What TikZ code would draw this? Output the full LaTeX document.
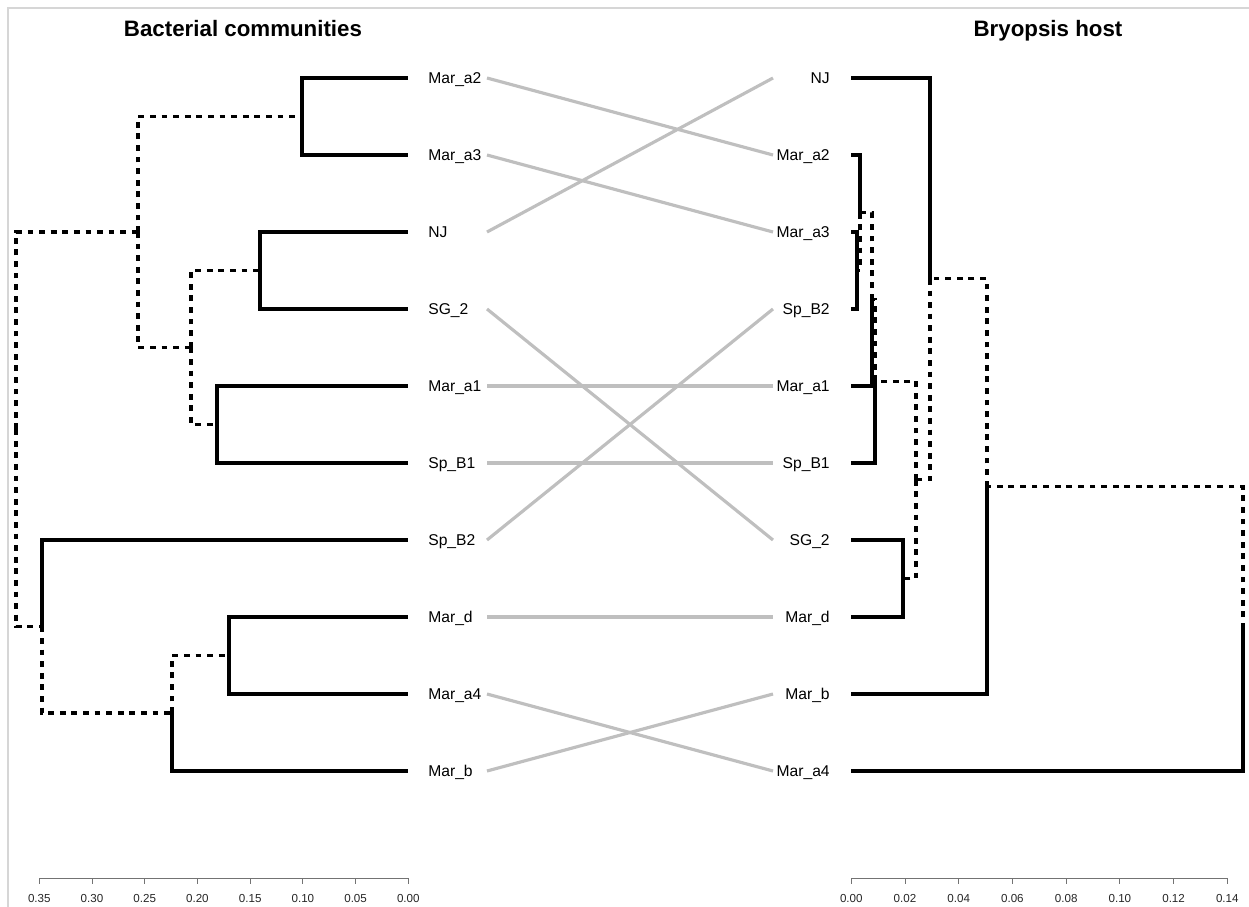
\documentclass[tikz,border=0pt]{standalone}
\usepackage{fontspec}
\setmainfont{Liberation Sans}
\usetikzlibrary{calc}

\tikzset{
  br/.style={line width=1.75pt},
  brd/.style={line width=1.75pt, dash pattern=on 3.3pt off 3.3pt},
  link/.style={line width=1.8pt, draw=black!25},
  lab/.style={inner sep=0pt, font=\fontsize{8.9}{10}\selectfont},
  ttl/.style={inner sep=0pt, font=\fontsize{12.7}{14}\selectfont\bfseries},
  axlab/.style={inner sep=0pt, font=\fontsize{6.6}{8}\selectfont, text=black!85},
  ax/.style={line width=0.5pt, draw=black!55},
}

\begin{document}
\begin{tikzpicture}[x=0.02cm, y=-0.02cm]
\useasboundingbox (0,0) rectangle (1249,907);
\draw[black!16, line width=1.1pt] (8,907) -- (8,8) -- (1249,8);

\node[ttl, anchor=base] (tb) at (243,36) {Bacterial communities};
\node[ttl, anchor=base] (th) at (1048,36) {Bryopsis host};

% leaves, bacterial side
\foreach \n/\t/\y in {Mara2/Mar\_a2/78, Mara3/Mar\_a3/155, NJ/NJ/232, SGb/SG\_2/309, Mara1/Mar\_a1/386, SpBa/Sp\_B1/463, SpBb/Sp\_B2/540, Mard/Mar\_d/617, Mara4/Mar\_a4/694, Marb/Mar\_b/771}{
  \node[lab, anchor=base west] (b\n) at (428,\y+5.6) {\t};
  \coordinate (bt\n) at (408,\y);
  \coordinate (bc\n) at (487,\y);
}
% leaves, host side
\foreach \n/\t/\y in {NJ/NJ/78, Mara2/Mar\_a2/155, Mara3/Mar\_a3/232, SpBb/Sp\_B2/309, Mara1/Mar\_a1/386, SpBa/Sp\_B1/463, SGb/SG\_2/540, Mard/Mar\_d/617, Marb/Mar\_b/694, Mara4/Mar\_a4/771}{
  \node[lab, anchor=base east] (h\n) at (830,\y+5.6) {\t};
  \coordinate (ht\n) at (851,\y);
  \coordinate (hc\n) at (773,\y);
}

% links
\foreach \n in {Mara2,Mara3,NJ,SGb,Mara1,SpBa,SpBb,Mard,Mara4,Marb}
  \draw[link] (bc\n) -- (hc\n);

% bacterial tree
\coordinate (b23) at (302,116.5); \coordinate (bNS) at (260,270.5); \coordinate (b1B) at (217,424.5);
\coordinate (bQ) at (191,347.5); \coordinate (bP) at (138,232);
\coordinate (bda) at (229,655.5); \coordinate (bR) at (172,713); \coordinate (bS) at (42,626.5);
\coordinate (broot) at (16,429.2);
\foreach \p/\c in {b23/btMara2, b23/btMara3, bNS/btNJ, bNS/btSGb, b1B/btMara1, b1B/btSpBa, bda/btMard, bda/btMara4, bR/btMarb, bS/btSpBb}
  \draw[br] (\p) |- (\c);
\foreach \p/\c in {bQ/bNS, bQ/b1B, bP/b23, bP/bQ, bR/bda, bS/bR, broot/bP, broot/bS}
  \draw[brd] (\p) |- (\c);

% host tree
\coordinate (h3B) at (857,270.5); \coordinate (hA) at (860,212.8); \coordinate (hB) at (872,299.4);
\coordinate (hC) at (875,381.2); \coordinate (hD) at (903,578.5); \coordinate (hE) at (916,479.8);
\coordinate (hF) at (930,278.9); \coordinate (hG) at (987,486.5); \coordinate (hroot) at (1243,628.7);
\foreach \p/\c in {hF/htNJ, hA/htMara2, h3B/htMara3, h3B/htSpBb, hB/htMara1, hC/htSpBa, hD/htSGb, hD/htMard, hG/htMarb, hroot/htMara4}
  \draw[br] (\p) |- (\c);
\foreach \p/\c in {hA/h3B, hB/hA, hC/hB, hE/hC, hE/hD, hF/hE, hG/hF, hroot/hG}
  \draw[brd] (\p) |- (\c);

% axes
\draw[ax] (39.3,878.3) -- (408.3,878.3);
\foreach \v/\x [count=\i] in {0.35/39.3, 0.30/92.0, 0.25/144.7, 0.20/197.4, 0.15/250.2, 0.10/302.9, 0.05/355.6, 0.00/408.3}{
  \draw[ax] (\x,878.3) -- (\x,883.5);
  \node[axlab, anchor=base] (ab\i) at (\x,902.7) {\v};
}
\draw[ax] (851.3,878.3) -- (1227.3,878.3);
\foreach \v/\x [count=\i] in {0.00/851.3, 0.02/905.0, 0.04/958.7, 0.06/1012.4, 0.08/1066.2, 0.10/1119.9, 0.12/1173.6, 0.14/1227.3}{
  \draw[ax] (\x,878.3) -- (\x,883.5);
  \node[axlab, anchor=base] (ah\i) at (\x,902.7) {\v};
}
\end{tikzpicture}
\end{document}
